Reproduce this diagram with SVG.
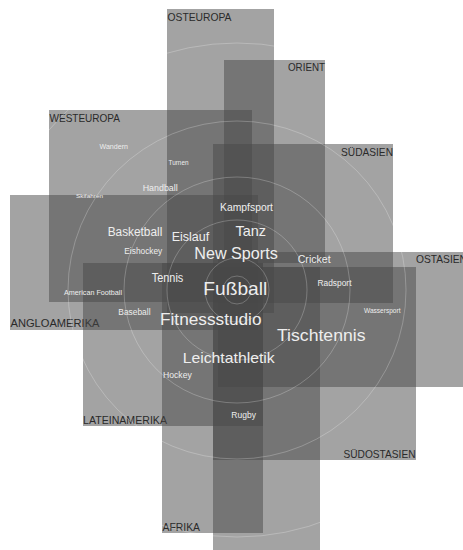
<svg xmlns="http://www.w3.org/2000/svg" width="463" height="550" viewBox="0 0 463 550">
<style>
.r{fill:#474747;fill-opacity:0.5}
.ring{fill:none;stroke:#fff;stroke-opacity:0.3;stroke-width:0.8}
.lab{font-family:"Liberation Sans",Arial,sans-serif;font-size:10.5px;fill:#2a2a2a}
.sp{font-family:"Liberation Sans",Arial,sans-serif;fill:#eeeeee}
</style>
<rect width="463" height="550" fill="#fff"/>
<g id="region-osteuropa"><rect class="r" x="167" y="9" width="107" height="304"/><text class="lab" x="167.5" y="20.5" textLength="64" lengthAdjust="spacingAndGlyphs">OSTEUROPA</text></g>
<g id="region-orient"><rect class="r" x="224" y="60" width="101" height="203"/><text class="lab" x="288" y="71" textLength="37" lengthAdjust="spacingAndGlyphs">ORIENT</text></g>
<g id="region-westeuropa"><rect class="r" x="49" y="110" width="203" height="192"/><text class="lab" x="49.5" y="122" textLength="70.5" lengthAdjust="spacingAndGlyphs">WESTEUROPA</text></g>
<g id="region-suedasien"><rect class="r" x="213" y="144" width="180" height="159"/><text class="lab" x="341" y="156" textLength="52" lengthAdjust="spacingAndGlyphs">SÜDASIEN</text></g>
<g id="region-angloamerika"><rect class="r" x="10" y="195" width="248" height="135"/><text class="lab" x="10.5" y="327" textLength="89" lengthAdjust="spacingAndGlyphs">ANGLOAMERIKA</text></g>
<g id="region-ostasien"><rect class="r" x="218" y="252" width="249" height="135"/><text class="lab" x="416" y="262.5" textLength="51" lengthAdjust="spacingAndGlyphs">OSTASIEN</text></g>
<g id="region-lateinamerika"><rect class="r" x="83" y="263" width="180" height="163"/><text class="lab" x="83" y="423.7" textLength="84" lengthAdjust="spacingAndGlyphs">LATEINAMERIKA</text></g>
<g id="region-suedostasien"><rect class="r" x="213" y="267" width="203" height="193"/><text class="lab" x="343.5" y="457.7" textLength="72" lengthAdjust="spacingAndGlyphs">SÜDOSTASIEN</text></g>
<g id="region-afrika"><rect class="r" x="162" y="263" width="101" height="270"/><text class="lab" x="162.5" y="531" textLength="37.5" lengthAdjust="spacingAndGlyphs">AFRIKA</text></g>
<g id="region-unlabelled"><rect class="r" x="213" y="267" width="107" height="304"/></g>
<g id="rings">
<circle class="ring" cx="237" cy="290" r="14"/>
<circle class="ring" cx="237" cy="290" r="32"/>
<circle class="ring" cx="237" cy="290" r="70"/>
<circle class="ring" cx="237" cy="290" r="113"/>
<circle class="ring" cx="237" cy="290" r="169"/>
<circle class="ring" cx="237" cy="290" r="247"/>
</g>
<g id="sports">
<text class="sp" x="99.5" y="148.5" font-size="6.5" textLength="28.5" lengthAdjust="spacingAndGlyphs">Wandern</text>
<text class="sp" x="168.5" y="164.5" font-size="6.5" textLength="20" lengthAdjust="spacingAndGlyphs">Turnen</text>
<text class="sp" x="142.7" y="190.5" font-size="9.5" textLength="35" lengthAdjust="spacingAndGlyphs">Handball</text>
<text class="sp" x="76" y="198" font-size="6" textLength="27" lengthAdjust="spacingAndGlyphs">Skifahren</text>
<text class="sp" x="220" y="211" font-size="10" textLength="53" lengthAdjust="spacingAndGlyphs">Kampfsport</text>
<text class="sp" x="107.7" y="235.5" font-size="12" textLength="54.6" lengthAdjust="spacingAndGlyphs">Basketball</text>
<text class="sp" x="171.7" y="240.5" font-size="13.5" textLength="37.5" lengthAdjust="spacingAndGlyphs">Eislauf</text>
<text class="sp" x="235.5" y="235.5" font-size="15" textLength="30.5" lengthAdjust="spacingAndGlyphs">Tanz</text>
<text class="sp" x="124.3" y="254" font-size="8.5" textLength="38" lengthAdjust="spacingAndGlyphs">Eishockey</text>
<text class="sp" x="194.3" y="258.5" font-size="17" textLength="83.5" lengthAdjust="spacingAndGlyphs">New Sports</text>
<text class="sp" x="297.7" y="263" font-size="10.5" textLength="33" lengthAdjust="spacingAndGlyphs">Cricket</text>
<text class="sp" x="151.7" y="281.8" font-size="12" textLength="31.6" lengthAdjust="spacingAndGlyphs">Tennis</text>
<text class="sp" x="203.3" y="294.5" font-size="18.5" textLength="64" lengthAdjust="spacingAndGlyphs">Fußball</text>
<text class="sp" x="317.5" y="286" font-size="8.5" textLength="34" lengthAdjust="spacingAndGlyphs">Radsport</text>
<text class="sp" x="64" y="294.5" font-size="7" textLength="58" lengthAdjust="spacingAndGlyphs">American Football</text>
<text class="sp" x="364" y="313" font-size="6.5" textLength="36.5" lengthAdjust="spacingAndGlyphs">Wassersport</text>
<text class="sp" x="118.3" y="314.5" font-size="8.5" textLength="32.2" lengthAdjust="spacingAndGlyphs">Baseball</text>
<text class="sp" x="160" y="325" font-size="16.5" textLength="101.5" lengthAdjust="spacingAndGlyphs">Fitnessstudio</text>
<text class="sp" x="277" y="341" font-size="16.5" textLength="88.5" lengthAdjust="spacingAndGlyphs">Tischtennis</text>
<text class="sp" x="182.7" y="362.5" font-size="15" textLength="92" lengthAdjust="spacingAndGlyphs">Leichtathletik</text>
<text class="sp" x="163" y="377.5" font-size="8.5" textLength="28.8" lengthAdjust="spacingAndGlyphs">Hockey</text>
<text class="sp" x="231.3" y="418" font-size="8.5" textLength="24.6" lengthAdjust="spacingAndGlyphs">Rugby</text>
</g>
</svg>
